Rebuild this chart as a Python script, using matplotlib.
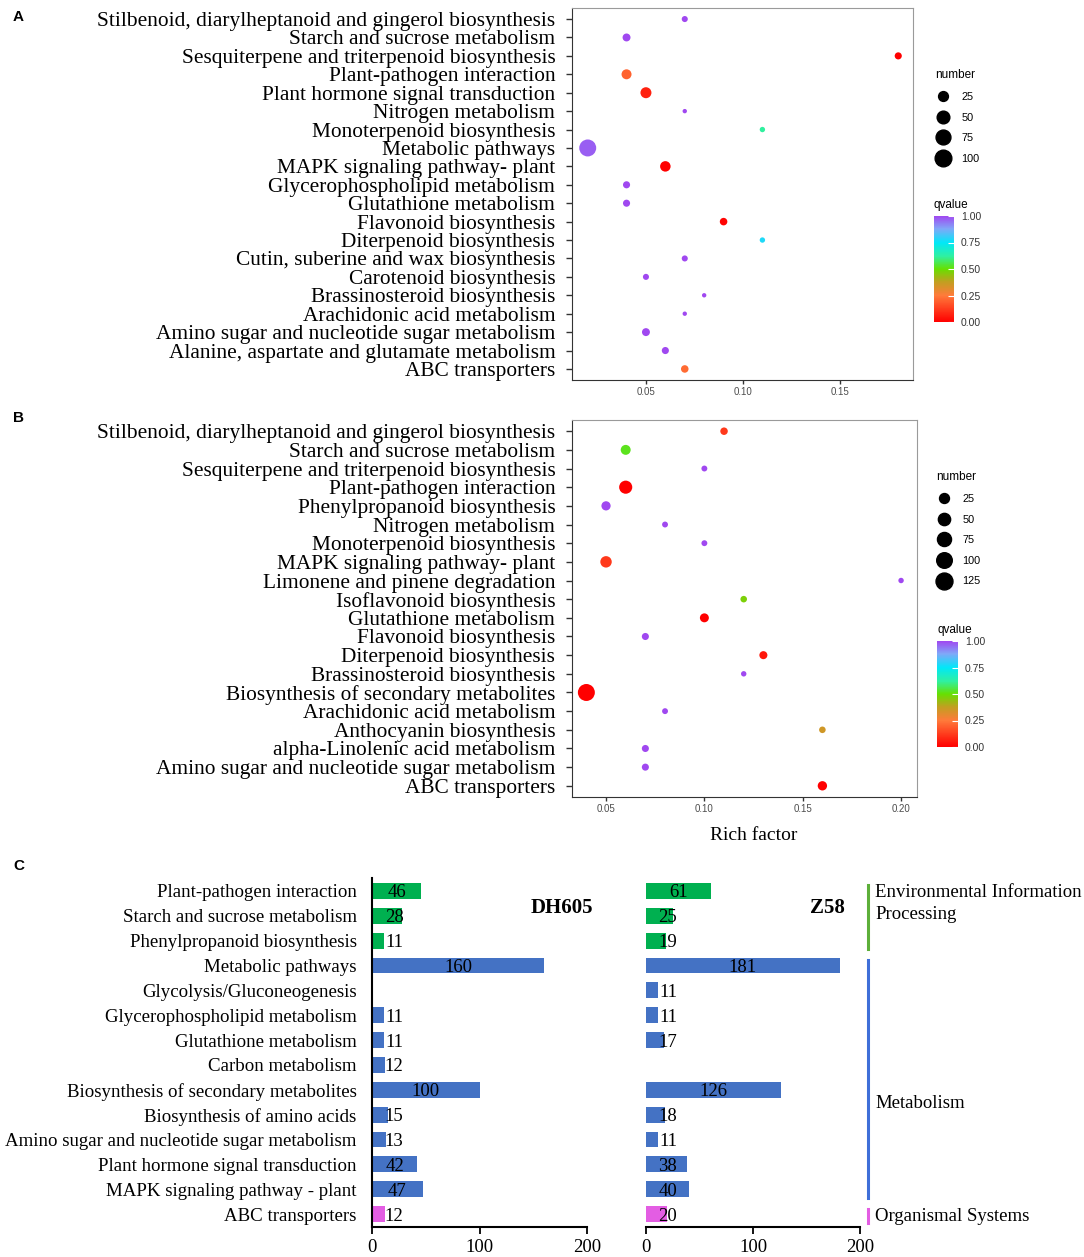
import numpy as np
import matplotlib.pyplot as plt
import matplotlib.transforms as mtransforms
from matplotlib.colors import LinearSegmentedColormap
from matplotlib.lines import Line2D
from matplotlib.cm import ScalarMappable
from matplotlib.colors import Normalize

W, H, DPI = 1084, 1257, 100
SERIF = "Liberation Serif"
SANS = "Liberation Sans"

# ---- panel A data (top to bottom) ----
a_terms = ["Stilbenoid, diarylheptanoid and gingerol biosynthesis", "Starch and sucrose metabolism",
           "Sesquiterpene and triterpenoid biosynthesis", "Plant-pathogen interaction",
           "Plant hormone signal transduction", "Nitrogen metabolism", "Monoterpenoid biosynthesis",
           "Metabolic pathways", "MAPK signaling pathway- plant", "Glycerophospholipid metabolism",
           "Glutathione metabolism", "Flavonoid biosynthesis", "Diterpenoid biosynthesis",
           "Cutin, suberine and wax biosynthesis", "Carotenoid biosynthesis", "Brassinosteroid biosynthesis",
           "Arachidonic acid metabolism", "Amino sugar and nucleotide sugar metabolism",
           "Alanine, aspartate and glutamate metabolism", "ABC transporters"]
a_rich = [0.07, 0.04, 0.18, 0.04, 0.05, 0.07, 0.11, 0.02, 0.06, 0.04,
          0.04, 0.09, 0.11, 0.07, 0.05, 0.08, 0.07, 0.05, 0.06, 0.07]
a_number = [5, 13, 9, 26, 34, 1, 3, 104, 30, 9, 9, 11, 3, 5, 5, 1, 1, 13, 9, 11]
a_qvalue = [1.0, 1.0, 0.0, 0.2, 0.07, 1.0, 0.62, 0.97, 0.0, 1.0,
            1.0, 0.01, 0.78, 1.0, 1.0, 1.0, 1.0, 1.0, 1.0, 0.22]
a_size_breaks = [25, 50, 75, 100]

# ---- panel B data (top to bottom) ----
b_terms = ["Stilbenoid, diarylheptanoid and gingerol biosynthesis", "Starch and sucrose metabolism",
           "Sesquiterpene and triterpenoid biosynthesis", "Plant-pathogen interaction",
           "Phenylpropanoid biosynthesis", "Nitrogen metabolism", "Monoterpenoid biosynthesis",
           "MAPK signaling pathway- plant", "Limonene and pinene degradation", "Isoflavonoid biosynthesis",
           "Glutathione metabolism", "Flavonoid biosynthesis", "Diterpenoid biosynthesis",
           "Brassinosteroid biosynthesis", "Biosynthesis of secondary metabolites",
           "Arachidonic acid metabolism", "Anthocyanin biosynthesis", "alpha-Linolenic acid metabolism",
           "Amino sugar and nucleotide sugar metabolism", "ABC transporters"]
b_rich = [0.11, 0.06, 0.10, 0.06, 0.05, 0.08, 0.10, 0.05, 0.20, 0.12,
          0.10, 0.07, 0.13, 0.12, 0.04, 0.08, 0.16, 0.07, 0.07, 0.16]
b_number = [8, 25, 2, 61, 19, 2, 2, 40, 1, 4, 17, 6, 11, 1, 126, 2, 4, 6, 6, 20]
b_qvalue = [0.12, 0.52, 1.0, 0.0, 1.0, 1.0, 1.0, 0.12, 1.0, 0.47,
            0.0, 1.0, 0.05, 1.0, 0.0, 1.0, 0.35, 1.0, 1.0, 0.0]
b_size_breaks = [25, 50, 75, 100, 125]

# ---- panel C data ----
c_terms = ["Plant-pathogen interaction", "Starch and sucrose metabolism", "Phenylpropanoid biosynthesis",
           "Metabolic pathways", "Glycolysis/Gluconeogenesis", "Glycerophospholipid metabolism",
           "Glutathione metabolism", "Carbon metabolism", "Biosynthesis of secondary metabolites",
           "Biosynthesis of amino acids", "Amino sugar and nucleotide sugar metabolism",
           "Plant hormone signal transduction", "MAPK signaling pathway - plant", "ABC transporters"]
c_dh605 = [46, 28, 11, 160, 0, 11, 11, 12, 100, 15, 13, 42, 47, 12]
c_z58 = [61, 25, 19, 181, 11, 11, 17, 0, 126, 18, 11, 38, 40, 20]
c_groups = ["Environmental Information\nProcessing", "Metabolism", "Organismal Systems"]
c_group_rows = [(0, 2), (3, 12), (13, 13)]
c_group_colors = ["#00B050", "#4472C4", "#E35DE3"]
c_line_colors = ["#5DAF3A", "#3F6FD8", "#E35DE3"]

qcmap = LinearSegmentedColormap.from_list("q", [
    (0.0, "#FF0000"), (0.25, "#FF7A3A"), (0.38, "#C0A020"), (0.5, "#66E000"),
    (0.62, "#30F0A0"), (0.75, "#00E8F8"), (0.88, "#80A8F8"), (1.0, "#A048F0")])


def size_a(n):
    return (0.72 * (3.0 + 1.37 * np.sqrt(np.asarray(n, float)))) ** 2


def size_b(n):
    return (0.72 * (4.3 + 1.13 * np.sqrt(np.asarray(n, float)))) ** 2


def px_axes(fig, left, top, right, bottom):
    return fig.add_axes([left / W, 1 - bottom / H, (right - left) / W, (bottom - top) / H])


def dot_panel(fig, rect, terms, rich, number, qvalue, sizefn, xlim, xticks, breaks, leg_rect, cbar_rect):
    ax = px_axes(fig, *rect)
    n = len(terms)
    y = n - 1 - np.arange(n)
    ax.scatter(rich, y, s=sizefn(number), c=qvalue, cmap=qcmap, vmin=0, vmax=1, linewidths=0, zorder=3)
    ax.set_xlim(*xlim)
    ax.set_ylim(-0.6, n - 0.4)
    ax.set_yticks(y)
    ax.set_yticklabels(terms, fontfamily=SERIF, fontsize=15.4)
    ax.set_xticks(xticks)
    ax.set_xticklabels(["%.2f" % t for t in xticks], fontfamily=SANS, fontsize=7, color="#4D4D4D")
    ax.tick_params(axis="y", length=4, width=1, color="#333333", pad=8)
    ax.tick_params(axis="x", length=3, width=1, color="#333333", pad=2)
    for side in ["left", "bottom"]:
        ax.spines[side].set_color("#333333")
    for side in ["top", "right"]:
        ax.spines[side].set_color("#9A9A9A")

    # size legend
    handles = [Line2D([], [], ls="none", marker="o", color="black", markersize=np.sqrt(sizefn(b)))
               for b in breaks]
    leg = ax.legend(handles, [str(b) for b in breaks], title="number", loc="upper left",
                    bbox_to_anchor=(leg_rect[0] / W, 1 - leg_rect[1] / H), bbox_transform=fig.transFigure,
                    frameon=False, prop={"family": SANS, "size": 7.8}, labelspacing=0.98,
                    handlelength=1.4, handletextpad=1.0, borderpad=0, alignment="left")
    leg.get_title().set_fontfamily(SANS)
    leg.get_title().set_fontsize(8.5)

    cax = px_axes(fig, *cbar_rect)
    cb = fig.colorbar(ScalarMappable(norm=Normalize(0, 1), cmap=qcmap), cax=cax)
    cb.outline.set_visible(False)
    cb.set_ticks([0, 0.25, 0.5, 0.75, 1.0])
    cb.set_ticklabels(["0.00", "0.25", "0.50", "0.75", "1.00"])
    cax.tick_params(direction="in", length=4, color="white", width=0.8, labelsize=7.5,
                    labelcolor="#333333", pad=5)
    for lab in cax.get_yticklabels():
        lab.set_fontfamily(SANS)
    cax.set_title("qvalue", loc="left", fontfamily=SANS, fontsize=8.5, pad=6)
    return ax


fig = plt.figure(figsize=(W / DPI, H / DPI), dpi=DPI)

dot_panel(fig, (572, 8, 913, 380), a_terms, a_rich, a_number, a_qvalue, size_a,
          (0.0119, 0.1876), [0.05, 0.10, 0.15], a_size_breaks, (930, 64), (934, 216, 954, 322))
dot_panel(fig, (572, 420, 917, 797), b_terms, b_rich, b_number, b_qvalue, size_b,
          (0.0327, 0.2081), [0.05, 0.10, 0.15, 0.20], b_size_breaks, (931, 466), (937, 641, 958, 747))
fig.text(754 / W, 1 - 836 / H, "Rich factor", fontfamily=SERIF, fontsize=14, ha="center", va="center")

for letter, yy in [("A", 17), ("B", 418), ("C", 866)]:
    fig.text(13 / W, 1 - yy / H, letter, fontfamily=SANS, fontweight="bold", fontsize=11, va="center")

# ---- panel C ----
row_colors = []
for (a, b), col in zip(c_group_rows, c_group_colors):
    row_colors += [col] * (b - a + 1)
rows = np.arange(len(c_terms))

ax1 = px_axes(fig, 372, 878, 587, 1227)
ax2 = px_axes(fig, 646, 878, 860, 1227)
for ax, vals, name, nx in [(ax1, c_dh605, "DH605", 177), (ax2, c_z58, "Z58", 170)]:
    ax.barh(rows, vals, height=0.64, color=row_colors, zorder=2)
    for r, v in zip(rows, vals):
        if v > 0:
            ax.text(max(v / 2, 20.5), r, str(v), ha="center", va="center_baseline",
                    fontfamily=SERIF, fontsize=13.5, zorder=3)
    ax.set_xlim(0, 200)
    ax.set_ylim(len(c_terms) - 0.48, -0.52)
    ax.set_xticks([0, 100, 200])
    ax.set_xticklabels(["0", "100", "200"], fontfamily=SERIF, fontsize=13.5)
    ax.tick_params(axis="x", direction="out", length=5, width=1.3, pad=4)
    ax.spines["top"].set_visible(False)
    ax.spines["right"].set_visible(False)
    ax.spines["bottom"].set_linewidth(1.5)
    ax.text(nx, 0.68, name, ha="center", va="center", fontfamily=SERIF, fontweight="bold", fontsize=15)

ax1.spines["left"].set_linewidth(1.5)
ax1.set_yticks(rows)
ax1.set_yticklabels(c_terms, fontfamily=SERIF, fontsize=13.6)
ax1.tick_params(axis="y", length=0, pad=11)
ax2.spines["left"].set_visible(False)
ax2.set_yticks([])

trans = mtransforms.blended_transform_factory(ax2.transAxes, ax2.transData)
label_rows = [0.52, 8.57, 13.1]
for (a, b), col, name, lr in zip(c_group_rows, c_line_colors, c_groups, label_rows):
    ax2.plot([1.037, 1.037], [a - 0.22, b + 0.34], color=col, lw=2.2, transform=trans, clip_on=False)
    ax2.text(1.07, lr, name, transform=trans, ha="left", va="center", fontfamily=SERIF,
             fontsize=13.5, linespacing=1.4)

fig.savefig("out.png", dpi=DPI)
